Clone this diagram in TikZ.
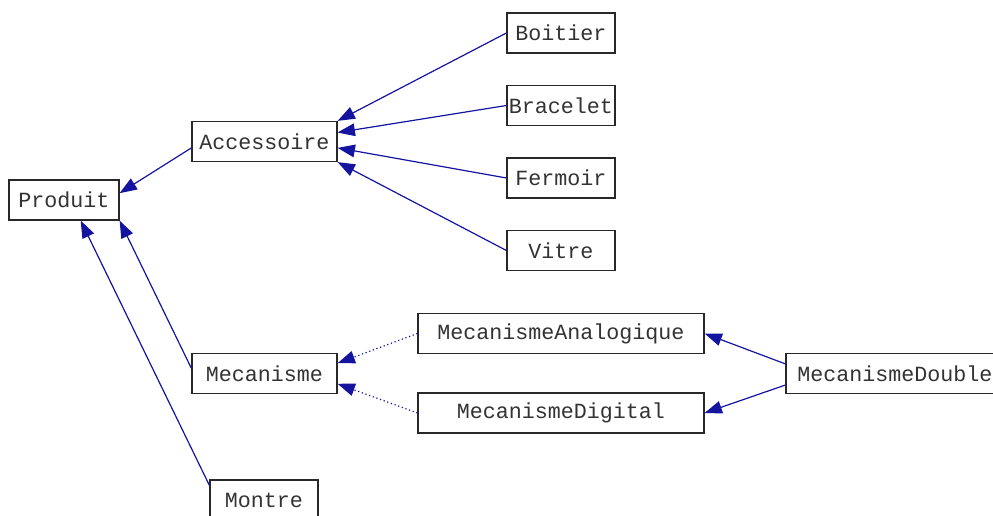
\documentclass[tikz,border=0pt]{standalone}
\usepackage{fontspec}
\setmonofont{Liberation Mono}
\usetikzlibrary{arrows.meta}
\definecolor{edgeblue}{RGB}{20,20,160}
\definecolor{boxgray}{RGB}{40,40,40}
\begin{document}
\begin{tikzpicture}[x=0.75pt,y=-0.75pt,auto,
    main node/.style={rectangle,draw=boxgray,line width=0.9pt,fill=white,inner sep=0pt,minimum height=30pt,
        font=\ttfamily\fontsize{16.25}{19}\selectfont,text=black!80},
    inherit/.style={draw=edgeblue,line width=0.9pt,-{Triangle[length=13pt,width=9.5pt]}},
    realize/.style={inherit,dotted}]
    \useasboundingbox (0,0) rectangle (993,516);

    \node[main node,minimum width=82.5pt] (produit) at (64,200) {Produit};
    \node[main node,minimum width=108.75pt] (accessoire) at (264.5,141.5) {Accessoire};
    \node[main node,minimum width=108.75pt] (mecanisme) at (264.5,373.5) {Mecanisme};
    \node[main node,minimum width=81pt] (montre) at (264,500) {Montre};

    \node[main node,minimum width=81pt] (boitier) at (561,33) {Boitier};
    \node[main node,minimum width=81pt] (bracelet) at (561,105.5) {Bracelet};
    \node[main node,minimum width=81pt] (fermoir) at (561,178) {Fermoir};
    \node[main node,minimum width=81pt] (vitre) at (561,250.5) {Vitre};

    \node[main node,minimum width=214.5pt] (analogique) at (561,333.5) {MecanismeAnalogique};
    \node[main node,minimum width=214.5pt] (digital) at (561,413) {MecanismeDigital};
    \node[main node,minimum width=163.5pt] (double) at (895,373.5) {MecanismeDouble};

    \path[every edge/.style={inherit}]
        (accessoire.185) edge (produit.7)
        (mecanisme.176) edge (produit.south east)
        (montre.165) edge (produit.-51)
        (boitier.west) edge (accessoire.north east)
        (bracelet.west) edge (accessoire.7)
        (fermoir.west) edge (accessoire.-5)
        (vitre.west) edge (accessoire.south east)
        (double.175) edge (analogique.east)
        (double.186) edge (digital.east);

    \path[every edge/.style={realize}]
        (analogique.west) edge (mecanisme.8)
        (digital.west) edge (mecanisme.-8);

\end{tikzpicture}
\end{document}
